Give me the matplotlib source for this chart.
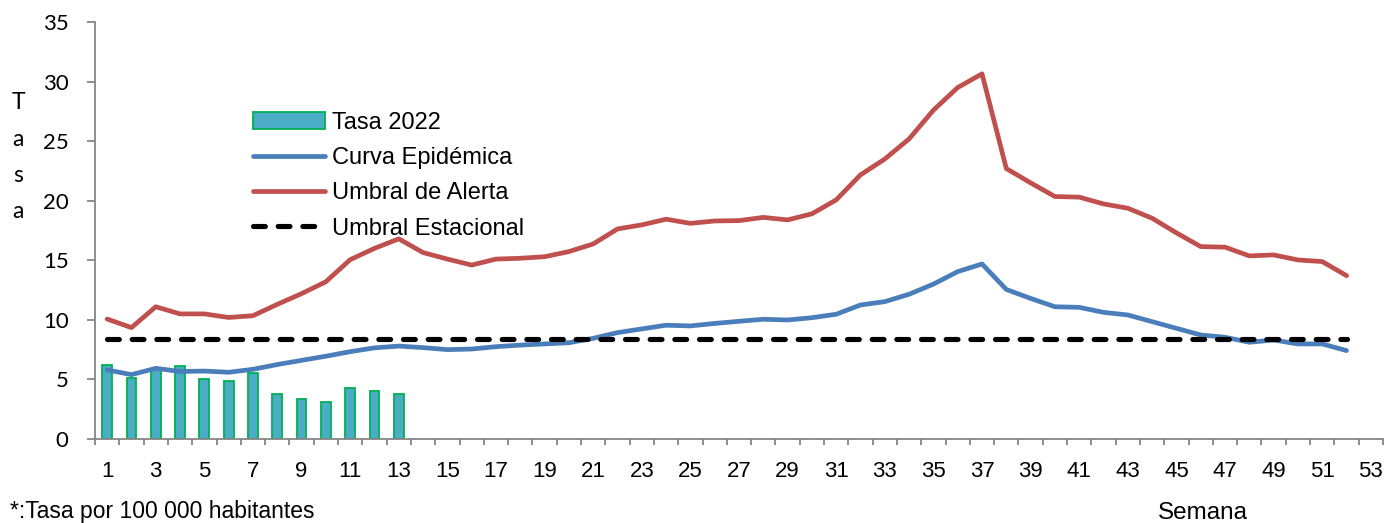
import matplotlib
matplotlib.use('Agg')
import matplotlib.pyplot as plt
import numpy as np

# ---- data ----
weeks = list(range(1, 53))
bar_weeks = list(range(1, 14))
tasa_2022 = [6.25, 5.1, 5.9, 6.12, 5.04, 4.87, 5.5, 3.8, 3.38, 3.13, 4.25, 4.02, 3.78]
curva_epidemica = [5.8, 5.4, 5.93, 5.67, 5.7, 5.6, 5.85, 6.25, 6.6, 6.95,
                   7.33, 7.65, 7.8, 7.67, 7.5, 7.55, 7.75, 7.88, 7.98, 8.08,
                   8.45, 8.93, 9.24, 9.55, 9.49, 9.7, 9.88, 10.05, 9.99, 10.18,
                   10.47, 11.25, 11.53, 12.15, 13.0, 14.05, 14.69, 12.55, 11.8, 11.1,
                   11.05, 10.63, 10.41, 9.85, 9.29, 8.73, 8.54, 8.12, 8.31, 7.98,
                   7.98, 7.42]
umbral_alerta = [10.07, 9.35, 11.1, 10.5, 10.5, 10.2, 10.35, 11.3, 12.2, 13.2,
                 15.05, 16.0, 16.8, 15.65, 15.1, 14.6, 15.1, 15.17, 15.3, 15.73,
                 16.37, 17.63, 17.97, 18.45, 18.1, 18.3, 18.33, 18.6, 18.39, 18.9,
                 20.07, 22.17, 23.5, 25.19, 27.6, 29.5, 30.65, 22.7, 21.5, 20.35,
                 20.3, 19.73, 19.37, 18.53, 17.3, 16.15, 16.1, 15.37, 15.45, 15.03,
                 14.89, 13.71]
umbral_estacional_value = 8.42
umbral_estacional = [umbral_estacional_value] * len(weeks)
x_tick_labels = [str(w) for w in range(1, 54, 2)]
y_ticks = [0, 5, 10, 15, 20, 25, 30, 35]
legend_labels = ['Tasa 2022', 'Curva Epidémica', 'Umbral de Alerta', 'Umbral Estacional']

W, H = 1399, 523
fig = plt.figure(figsize=(W / 100, H / 100), dpi=100)
ax = fig.add_axes([95 / W, 1 - 439 / H, (1383 - 95) / W, (439 - 22) / H])

gray = '#868686'
arial = 'Liberation Sans'
calib = ['Lato', 'DejaVu Sans']

b = ax.bar(bar_weeks, tasa_2022, width=0.4, color='#4BACC6', edgecolor='#00B050',
           linewidth=1.3, label=legend_labels[0], zorder=2)
l1, = ax.plot(weeks, curva_epidemica, color='#4A7EBB', lw=3.4, label=legend_labels[1],
              zorder=3, solid_joinstyle='round', solid_capstyle='round')
l2, = ax.plot(weeks, umbral_alerta, color='#C0504D', lw=3.4, label=legend_labels[2],
              zorder=4, solid_joinstyle='round', solid_capstyle='round')
l3, = ax.plot(weeks, umbral_estacional, color='black', lw=3.7, dashes=(2.3, 2.5),
              dash_capstyle='round', label=legend_labels[3], zorder=5)

ax.set_xlim(0.5, 53.5)
ax.set_ylim(0, 35)
for s in ('top', 'right'):
    ax.spines[s].set_visible(False)
for s in ('left', 'bottom'):
    ax.spines[s].set_color(gray)
    ax.spines[s].set_linewidth(1.3)

ax.set_xticks(list(range(1, 54, 2)))
ax.set_xticklabels(x_tick_labels, fontfamily=arial, fontsize=16)
ax.set_xticks(np.arange(0.5, 54, 1), minor=True)
ax.tick_params(axis='x', which='major', length=0, pad=15.5)
ax.tick_params(axis='x', which='minor', length=4.5, width=1.3, color=gray, direction='out')

ax.set_yticks(y_ticks)
ax.set_yticklabels([str(v) for v in y_ticks], fontfamily=calib, fontsize=16)
ax.tick_params(axis='y', which='major', length=6, width=1.3, color=gray, direction='out', pad=13)

leg = ax.legend(handles=[b, l1, l2, l3], labels=legend_labels, loc='upper left',
                bbox_to_anchor=(253 / W, 1 - 112 / H), bbox_transform=fig.transFigure,
                frameon=False, handlelength=3.05, handletextpad=0.3, labelspacing=0.56,
                borderpad=0, borderaxespad=0, prop={'family': arial, 'size': 17})

for letter, yb in zip(['T', 'a', 's', 'a'], [109, 145.5, 182, 218]):
    fig.text(18 / W, 1 - yb / H, letter, ha='center', va='baseline', fontfamily=calib, fontsize=16.5)

fig.text(1203 / W, 1 - 519 / H, 'Semana', ha='center', va='baseline', fontfamily=arial, fontsize=17.5)
fig.text(10 / W, 1 - 518 / H, '*:Tasa por 100 000 habitantes', ha='left', va='baseline',
         fontfamily=arial, fontsize=16.5)

fig.savefig('out.png', dpi=100)
